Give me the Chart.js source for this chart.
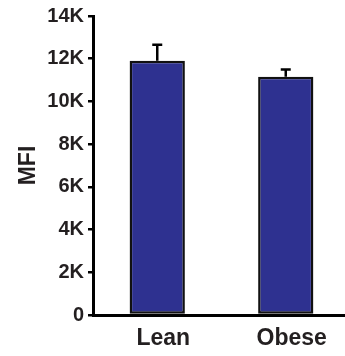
<!DOCTYPE html>
<html>
<head>
<meta charset="utf-8">
<script src="https://cdn.jsdelivr.net/npm/chart.js@4/dist/chart.umd.min.js"></script>
<style>
  html, body { margin: 0; padding: 0; background: #fff; overflow: hidden; }
  #clip { width: 345px; height: 356px; overflow: hidden; position: relative; }
  #wrap { width: 350px; height: 356px; position: absolute; left: 0; top: 0; }
</style>
</head>
<body>
<div id="clip"><div id="wrap"><canvas id="chart"></canvas></div></div>
<script>
// Mean fluorescence intensity by group, with SEM (upper whisker only)
const categories = ['Lean', 'Obese'];
const mfiMean = [11900, 11150];
const mfiSem = [750, 350];
const yTicks = [0, 2000, 4000, 6000, 8000, 10000, 12000, 14000];
const yTickLabels = ['0', '2K', '4K', '6K', '8K', '10K', '12K', '14K'];

const INK = '#231f20';
const FONT = '"Liberation Sans", Arial, sans-serif';

const errorBars = {
  id: 'errorBars',
  afterDatasetsDraw(chart) {
    const { ctx } = chart;
    const yScale = chart.scales.y;
    const meta = chart.getDatasetMeta(0);
    ctx.save();
    ctx.strokeStyle = '#000';
    ctx.lineWidth = 2.5;
    ctx.lineCap = 'butt';
    meta.data.forEach((bar, i) => {
      const x = bar.x;
      const yMean = yScale.getPixelForValue(mfiMean[i]);
      const yHigh = yScale.getPixelForValue(mfiMean[i] + mfiSem[i]);
      ctx.beginPath();
      ctx.moveTo(x, yMean);
      ctx.lineTo(x, yHigh);
      ctx.moveTo(x - 5, yHigh);
      ctx.lineTo(x + 5, yHigh);
      ctx.stroke();
    });
    ctx.restore();
  }
};

new Chart(document.getElementById('chart'), {
  type: 'bar',
  data: {
    labels: categories,
    datasets: [{
      data: mfiMean,
      backgroundColor: '#2e3190',
      borderColor: '#111',
      borderWidth: 2.5,
      borderSkipped: false,
      categoryPercentage: 1,
      barPercentage: 0.43
    }]
  },
  options: {
    responsive: true,
    maintainAspectRatio: false,
    animation: false,
    layout: { padding: { top: 16, left: 15, right: 0, bottom: 0 } },
    plugins: { legend: { display: false }, tooltip: { enabled: false } },
    scales: {
      x: {
        offset: true,
        grid: { display: false, drawTicks: false },
        border: { display: true, color: '#000', width: 3 },
        ticks: {
          color: INK,
          padding: 10,
          labelOffset: 6,
          font: { family: FONT, size: 23, weight: 'bold' }
        },
        afterFit(scale) { scale.height = 41; }
      },
      y: {
        min: 0,
        max: 14000,
        afterBuildTicks(scale) { scale.ticks = yTicks.map(v => ({ value: v })); },
        grid: { drawOnChartArea: false, drawTicks: true, tickLength: 5, color: '#000', lineWidth: 2.5 },
        border: { display: true, color: '#000', width: 3 },
        ticks: {
          color: INK,
          padding: 4,
          font: { family: FONT, size: 20, weight: 'bold' },
          callback(value) {
            const i = yTicks.indexOf(value);
            return i >= 0 ? yTickLabels[i] : '';
          }
        },
        title: {
          display: true,
          text: 'MFI',
          color: INK,
          padding: 0,
          font: { family: FONT, size: 23, weight: 'bold' }
        },
        afterFit(scale) { scale.width = 78; }
      }
    }
  },
  plugins: [errorBars]
});
</script>
</body>
</html>
